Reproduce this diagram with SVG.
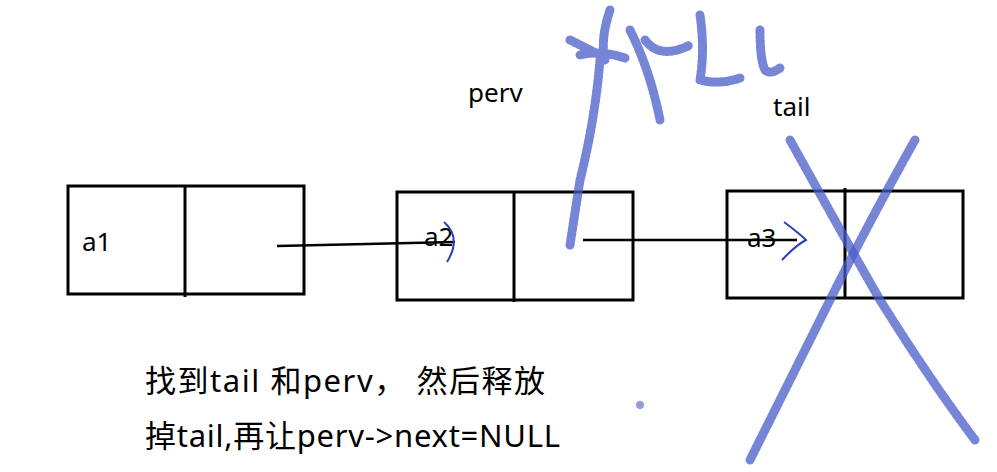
<svg xmlns="http://www.w3.org/2000/svg" width="997" height="472" viewBox="0 0 997 472">
<style>
.box{fill:none;stroke:#000;stroke-width:3}
.t{font-family:"Noto Sans","Noto Sans CJK SC",sans-serif;fill:#000}
.scr{fill:none;stroke:#4a5cc8;stroke-width:9;stroke-linecap:round;stroke-linejoin:round;opacity:0.75;stroke-dasharray:3 2}
.pen{fill:none;stroke:#2b3fb8;stroke-width:2}
</style>
<rect width="997" height="472" fill="#fff"/>
<g id="node-a1"><rect class="box" x="68" y="186" width="236" height="108"/><line class="box" x1="185" y1="186" x2="185" y2="297"/><text class="t" x="82" y="251" font-size="26">a1</text></g>
<g id="node-a2"><rect class="box" x="397" y="192" width="236" height="108"/><line class="box" x1="514" y1="192" x2="514" y2="302"/><text class="t" x="424" y="246" font-size="26">a2</text></g>
<g id="node-a3"><rect class="box" x="727" y="191" width="236" height="107"/><line class="box" x1="845" y1="188" x2="845" y2="298"/><text class="t" x="747" y="247" font-size="26">a3</text></g>
<g id="connectors">
<line x1="277" y1="246" x2="455" y2="242" stroke="#000" stroke-width="2.5"/>
<line x1="583" y1="240" x2="797" y2="240" stroke="#000" stroke-width="2.5"/>
<path class="pen" d="M444 222 Q462 238 447 262"/>
<path class="pen" d="M784 222 Q800 234 806 240 Q795 246 782 260"/>
</g>
<g id="labels">
<text class="t" x="468" y="102" font-size="26">perv</text>
<text class="t" x="773" y="116" font-size="26">tail</text>
<text class="t" x="145" y="392" font-size="31" textLength="400">找到tail 和perv， 然后释放</text>
<text class="t" x="145" y="447" font-size="31" textLength="415">掉tail,再让perv-&gt;next=NULL</text>
</g>
<g id="scribbles">
<path class="scr" d="M570 40 L600 55 M610 10 Q600 40 605 60 M580 55 Q600 50 625 58 M600 60 Q595 120 580 180 L570 245"/>
<path class="scr" d="M630 30 Q650 70 660 120 M645 40 Q660 60 690 45"/>
<path class="scr" d="M700 15 Q705 50 700 80 Q720 85 740 78"/>
<path class="scr" d="M760 30 Q760 60 765 70 Q770 75 780 68"/>
<path class="scr" d="M790 140 Q840 230 880 300 Q930 380 975 440"/>
<path class="scr" d="M915 140 Q870 220 830 300 Q790 380 750 460"/>
<circle cx="640" cy="405" r="4" fill="#4a5cc8" opacity="0.6"/>
</g>
</svg>
